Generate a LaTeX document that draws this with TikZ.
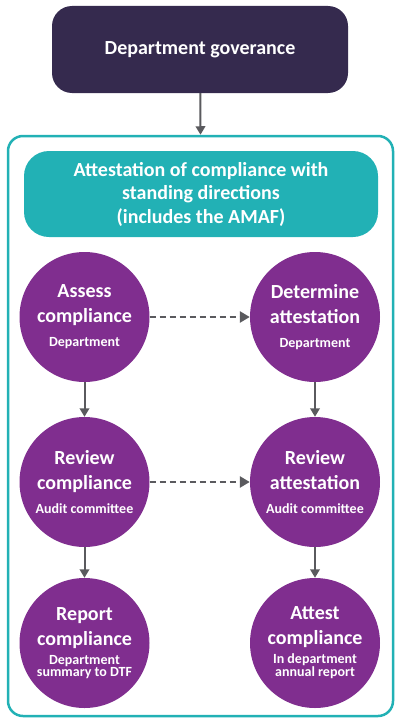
\documentclass[tikz,border=0pt]{standalone}
\usepackage{fontspec}
\setmainfont{Carlito}
\usetikzlibrary{arrows.meta}
\definecolor{govpurple}{RGB}{53,42,78}
\definecolor{tealc}{RGB}{34,177,181}
\definecolor{stepc}{RGB}{128,46,143}
\definecolor{arrgray}{RGB}{90,90,94}
\newcommand{\subtxt}{\fontsize{14}{12.5}\selectfont}

\begin{document}
\begin{tikzpicture}[x=1pt, y=-1pt,
	circ/.style={circle, fill=stepc, text=white, minimum size=130pt, inner sep=0pt,
		align=center, font=\fontsize{20}{25}\selectfont\bfseries},
	arr/.style={draw=arrgray, line width=2pt, -{Triangle[width=9.5pt,length=8.5pt]}},
	dasharr/.style={draw=arrgray, line width=2.5pt, dash pattern=on 6.5pt off 3.5pt,
		-{Triangle[width=11pt,length=10pt]}}]

	\useasboundingbox (0,0) rectangle (404,725);

	% top box
	\node[fill=govpurple, text=white, rounded corners=20pt, minimum width=296pt, minimum height=87pt,
		font=\fontsize{20}{24}\selectfont\bfseries] (gov) at (200,49.5) {Department goverance};

	% frame and banner
	\node[draw=tealc, line width=2.5pt, rounded corners=15pt, minimum width=385pt, minimum height=580pt,
		inner sep=0pt] (frame) at (200.5,426) {};
	\node[fill=tealc, text=white, rounded corners=25pt, minimum width=354pt, minimum height=86pt,
		align=center, font=\fontsize{20}{23.5}\selectfont\bfseries] (banner) at (201,194)
		{Attestation of compliance with\\standing directions\\(includes the AMAF)};

	% circles
	\node[circ] (assess) at (84.5,317) {Assess\\compliance\\[-1pt]{\subtxt Department}};
	\node[circ] (determine) at (315,317) {Determine\\attestation\\[-1pt]{\subtxt Department}};
	\node[circ] (review) at (84.5,482) {Review\\compliance\\[-1pt]{\subtxt Audit committee}};
	\node[circ] (reviewatt) at (315,482) {Review\\attestation\\[-1pt]{\subtxt Audit committee}};
	\node[circ] (report) at (84.5,643) {Report\\compliance\\[-6pt]{\subtxt Department}\\[-12.5pt]{\subtxt summary to DTF}};
	\node[circ] (attest) at (315,643) {Attest\\compliance\\[-6pt]{\subtxt In department}\\[-12pt]{\subtxt annual report}};

	% arrows
	\draw[arr] (gov) -- (frame.north);
	\draw[arr] (assess) -- (review);
	\draw[arr] (review) -- (report);
	\draw[arr] (determine) -- (reviewatt);
	\draw[arr] (reviewatt) -- (attest);
	\draw[dasharr] (assess) -- (determine);
	\draw[dasharr] (review) -- (reviewatt);

\end{tikzpicture}
\end{document}
